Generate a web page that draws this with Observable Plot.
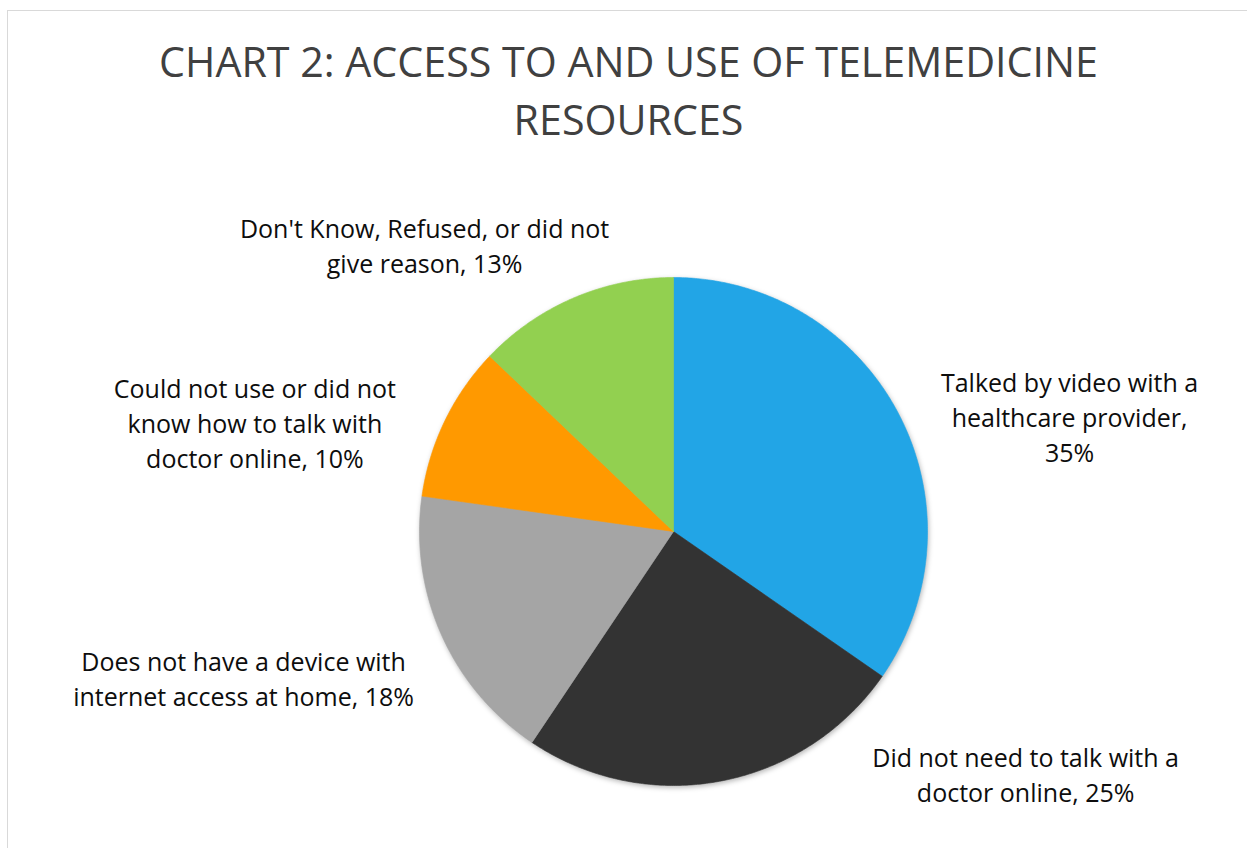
<!DOCTYPE html>
<html>
<head>
<meta charset="utf-8">
<script src="https://cdn.jsdelivr.net/npm/d3@7"></script>
<script src="https://cdn.jsdelivr.net/npm/@observablehq/plot@0.6"></script>
<style>
  html, body { margin: 0; padding: 0; background: #fff; width: 1247px; height: 848px; overflow: hidden; }
  #frame { position: absolute; left: 7px; top: 10px; width: 1300px; height: 900px;
           border-left: 1.5px solid #d9d9d9; border-top: 1.5px solid #d9d9d9; box-sizing: border-box; }
  #title { position: absolute; left: 0; top: 32px; width: 1257px; text-align: center;
           font-family: "Open Sans", sans-serif; font-size: 41.2px; line-height: 58px; color: #404040; font-weight: 400; }
  #chart { position: absolute; left: 0; top: 150px; }
  #chart svg [aria-label="line"] { filter: drop-shadow(1.5px 2px 2.5px rgba(0,0,0,0.28)); }
</style>
</head>
<body>
<div id="frame"></div>
<div id="title">CHART 2: ACCESS TO AND USE OF TELEMEDICINE<br>RESOURCES</div>
<div id="chart"></div>
<script>
// ---- data ----
const categories = [
  "Talked by video with a\nhealthcare provider",
  "Did not need to talk with a\ndoctor online",
  "Does not have a device with\ninternet access at home",
  "Could not use or did not\nknow how to talk with\ndoctor online",
  "Don't Know, Refused, or did not\ngive reason"
];
const values = [35, 25, 18, 10, 13];
const colors = ["#22A5E6", "#333333", "#A5A5A5", "#FF9900", "#92D050"];
const breakBeforeValue = [true, false, false, false, false];

// ---- layout (pixels) ----
const W = 1247, H = 698;
const R = 254;            // pie radius
const CX = 673, CY = 381; // pie centre inside the svg
// label offsets from the slice's outer mid-point, in pixels
const labelOffsets = [[171, 2], [305, -8], [-198, 42], [-190, 1], [-149, -54]];

const pie = d3.pie().sort(null).value(d => d.value);
const rows = categories.map((c, i) => ({cat: c, value: values[i], i}));
const arcs = pie(rows);

// slice outlines in unit-radius coordinates (y up)
const slicePts = [];
for (const a of arcs) {
  const cat = a.data.cat;
  slicePts.push({cat, x: 0, y: 0});
  const n = Math.max(2, Math.ceil((a.endAngle - a.startAngle) / (Math.PI / 360)));
  for (let k = 0; k <= n; k++) {
    const t = a.startAngle + (a.endAngle - a.startAngle) * k / n;
    slicePts.push({cat, x: Math.sin(t), y: Math.cos(t)});
  }
  slicePts.push({cat, x: 0, y: 0});
}

const labelData = arcs.map(a => {
  const i = a.data.i;
  const m = (a.startAngle + a.endAngle) / 2;
  const [ox, oy] = labelOffsets[i];
  return {
    x: Math.sin(m) + ox / R,
    y: Math.cos(m) - oy / R,
    text: a.data.cat + "," + (breakBeforeValue[i] ? "\n" : " ") + a.data.value + "%"
  };
});

const chart = Plot.plot({
  width: W,
  height: H,
  margin: 0,
  style: {fontFamily: "'Open Sans', sans-serif", background: "transparent", overflow: "visible"},
  x: {domain: [-CX / R, (W - CX) / R], axis: null},
  y: {domain: [-(H - CY) / R, CY / R], axis: null},
  color: {domain: categories, range: colors},
  marks: [
    Plot.line(slicePts, {x: "x", y: "y", z: "cat", fill: "cat", stroke: "cat", strokeWidth: 0.6, curve: "linear"}),
    Plot.text(labelData, {x: "x", y: "y", text: "text", fontSize: 25, lineHeight: 1.4, fill: "#0d0d0d", textAnchor: "middle", lineAnchor: "middle"})
  ]
});
document.getElementById("chart").appendChild(chart);
</script>
</body>
</html>
